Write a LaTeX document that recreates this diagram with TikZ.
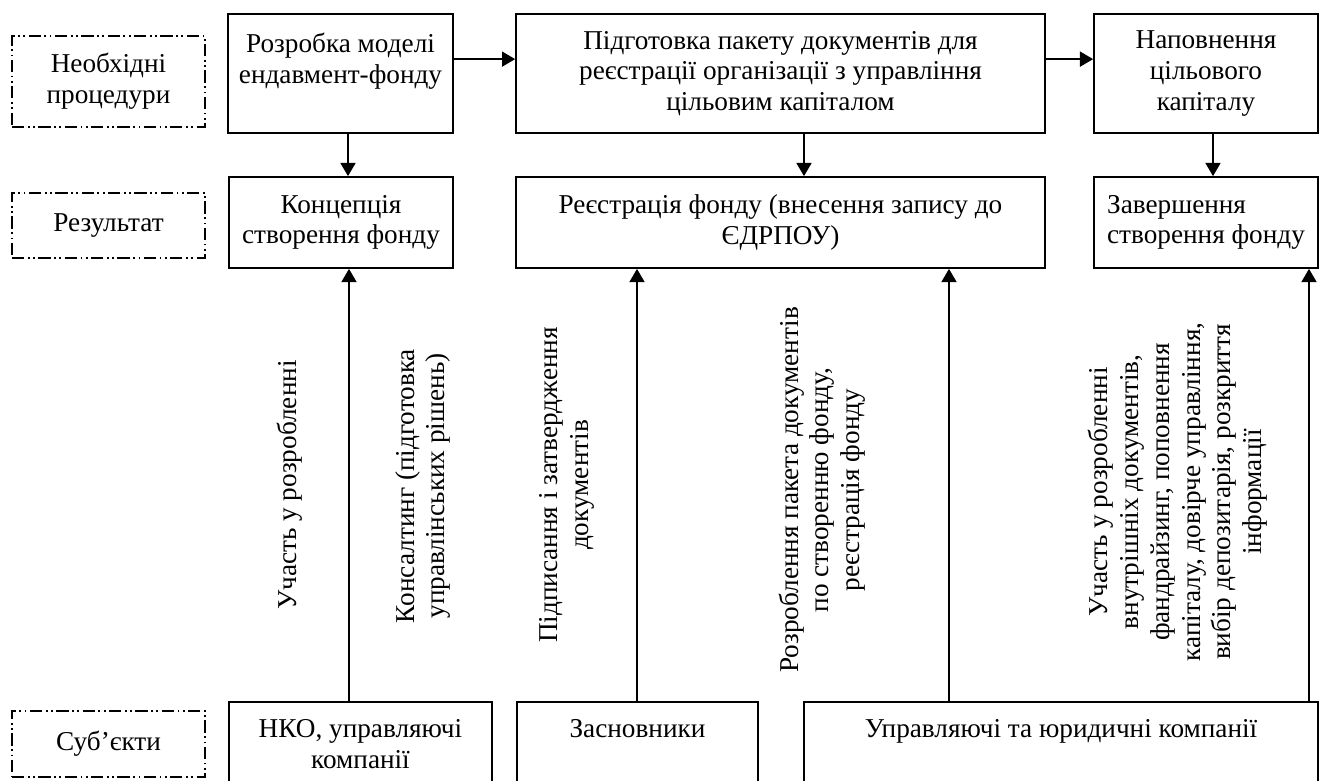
\documentclass[tikz,border=0pt]{standalone}
\usepackage{fontspec}
\setmainfont{Liberation Serif}
\usetikzlibrary{arrows.meta}
\begin{document}
\begin{tikzpicture}[x=0.02cm,y=-0.02cm,
        font=\fontsize{15.5}{17.5}\selectfont,
        box/.style={draw,line width=1pt,align=center,inner sep=0pt},
        stage/.style={draw,line width=0.6pt,dash pattern=on 7pt off 2pt on 1pt off 2pt on 1pt off 2pt,align=center,minimum width=3.86cm},
        arr/.style={line width=1pt,-{Triangle[length=7.5pt,width=8.5pt]}},
        lbl/.style={rotate=90,align=center,inner sep=0pt}]
        \clip (0,0) rectangle (1326,781);
        \node[stage,minimum height=1.82cm] (proc) at (108.5,81.5) {Необхідні\\процедури};
        \node[stage,minimum height=1.3cm] (res) at (108.5,225.5) {Результат};
        \node[stage,minimum height=1.32cm] (subj) at (108.5,744) {Суб’єкти};
        \node[box,minimum width=4.5cm,minimum height=2.38cm] (dev) at (340.5,73.5) {Розробка моделі\\ендавмент-фонду\\\mbox{}};
        \node[box,minimum width=10.58cm,minimum height=2.38cm] (prep) at (780.5,73.5) {Підготовка пакету документів для\\реєстрації організації з управління\\цільовим капіталом};
        \node[box,minimum width=4.48cm,minimum height=2.38cm] (fill) at (1206,73.5) {Наповнення\\цільового\\капіталу};
        \node[box,minimum width=4.48cm,minimum height=1.82cm] (concept) at (341,222.5) {Концепція\\створення фонду};
        \node[box,minimum width=10.58cm,minimum height=1.82cm] (reg) at (780.5,222.5) {Реєстрація фонду (внесення запису до\\ЄДРПОУ)};
        \node[box,align=left,minimum width=4.48cm,minimum height=1.82cm] (done) at (1206,222.5) {Завершення\\створення фонду};
        \node[box,anchor=north,minimum width=5.26cm,inner ysep=0.36cm] (nko) at (360.5,701) {НКО, управляючі\\компанії\\\mbox{}};
        \node[box,anchor=north,minimum width=4.82cm,inner ysep=0.36cm] (founders) at (637.5,701) {Засновники\\\mbox{}\\\mbox{}};
        \node[box,anchor=north,minimum width=10.28cm,inner ysep=0.36cm] (mgmt) at (1061,701) {Управляючі та юридичні компанії\\\mbox{}\\\mbox{}};
        \draw[arr] ([yshift=-0.92cm]dev.north east) -- ([yshift=-0.92cm]prep.north west);
        \draw[arr] ([yshift=-0.92cm]prep.north east) -- ([yshift=-0.92cm]fill.north west);
        \coordinate (a1) at (348,0);
        \coordinate (a2) at (804,0);
        \coordinate (a3) at (1213,0);
        \draw[arr] (a1 |- dev.south) -- (a1 |- concept.north);
        \draw[arr] (a2 |- prep.south) -- (a2 |- reg.north);
        \draw[arr] (a3 |- fill.south) -- (a3 |- done.north);
        \coordinate (b1) at (349,0);
        \coordinate (b2) at (637,0);
        \coordinate (b3) at (949,0);
        \coordinate (b4) at (1309,0);
        \draw[arr] (b1 |- nko.north) -- (b1 |- concept.south);
        \draw[arr] (b2 |- founders.north) -- (b2 |- reg.south);
        \draw[arr] (b3 |- mgmt.north) -- (b3 |- reg.south);
        \draw[arr] (b4 |- mgmt.north) -- (b4 |- done.south);
        \node[lbl] (t1) at (290,485) {Участь у розробленні};
        \node[lbl] (t2) at (423,486) {Консалтинг (підготовка\\управлінських рішень)};
        \node[lbl] (t3) at (567,485) {Підписання і затвердження\\документів};
        \node[lbl] (t4) at (822,490) {Розроблення пакета документів\\по створенню фонду,\\реєстрація фонду};
        \node[lbl] (t5) at (1178,492) {Участь у розробленні\\внутрішніх документів,\\фандрайзинг, поповнення\\капіталу, довірче управління,\\вибір депозитарія, розкриття\\інформації};
    \end{tikzpicture}
\end{document}
